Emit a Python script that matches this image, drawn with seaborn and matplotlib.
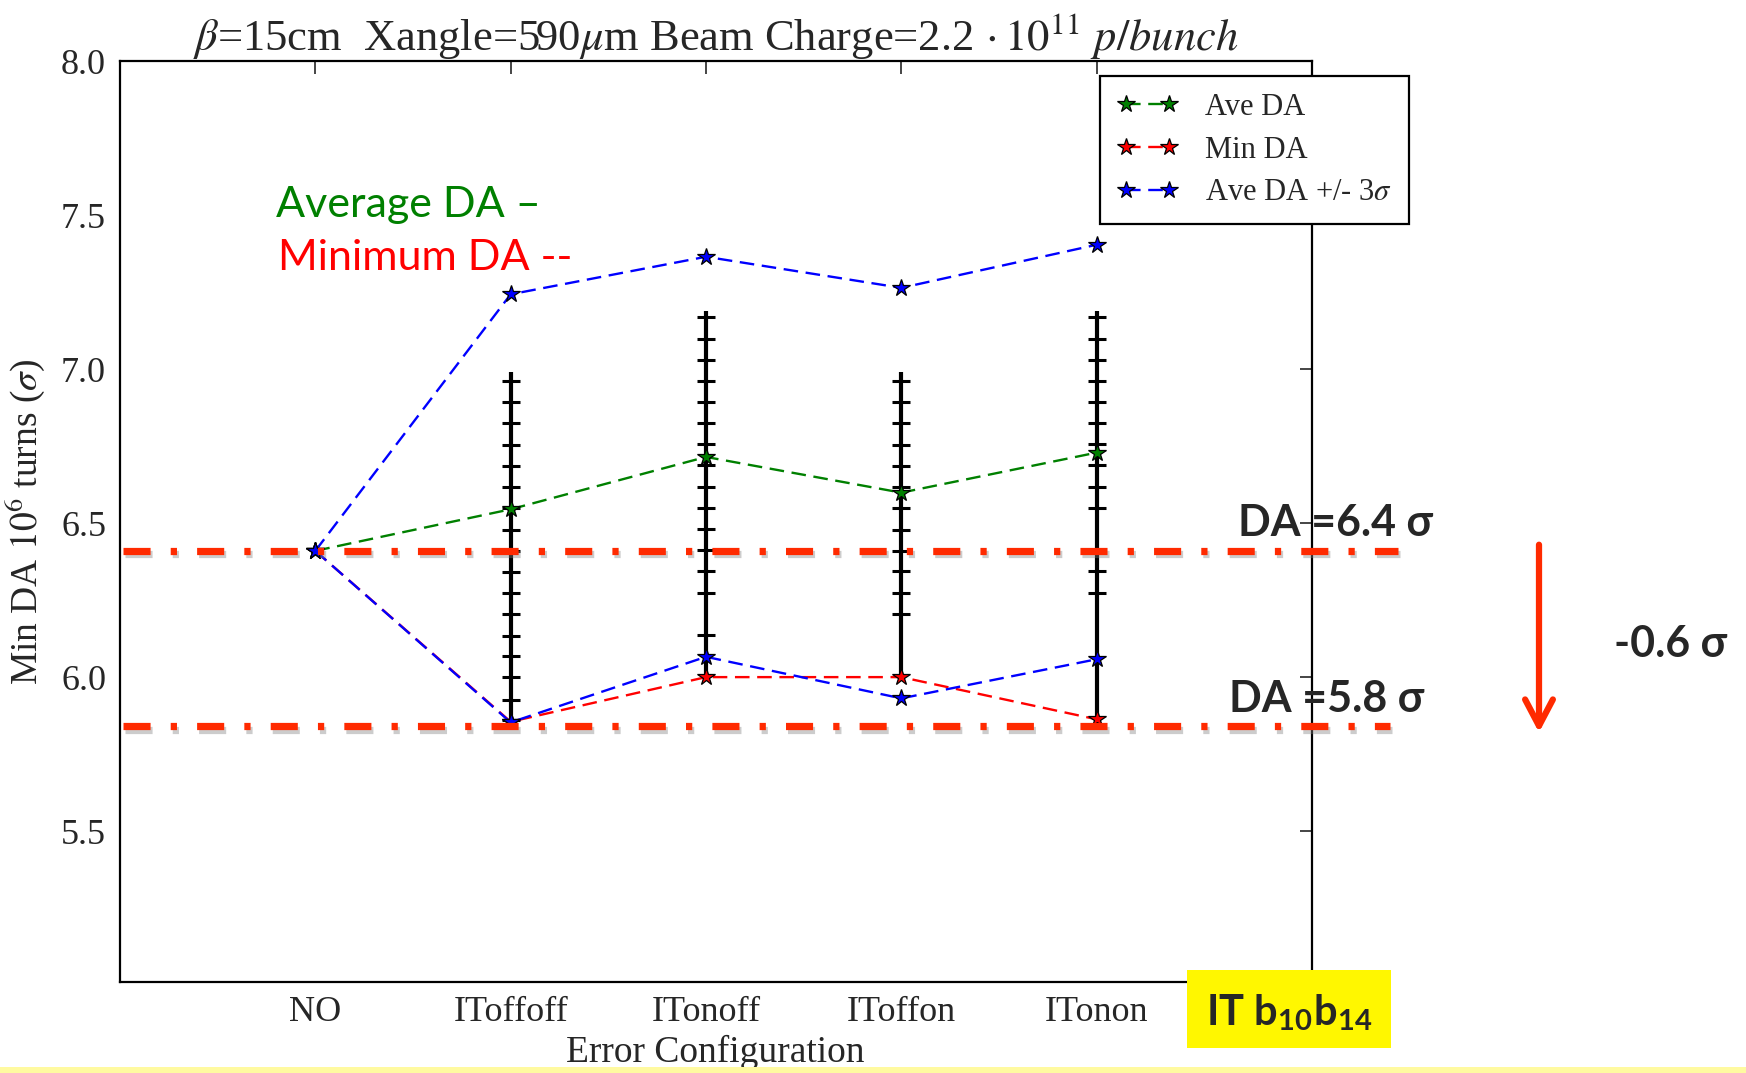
import numpy as np
import pandas as pd
import seaborn as sns
import matplotlib
matplotlib.use("Agg")
import matplotlib.pyplot as plt
import matplotlib.patheffects as pe
import matplotlib.transforms as mtransforms
from matplotlib.lines import Line2D
from matplotlib.patches import Rectangle

# ---- data -------------------------------------------------------------
configs = ["NO", "IToffoff", "ITonoff", "IToffon", "ITonon"]
ave_da = [6.41, 6.545, 6.715, 6.599, 6.729]
min_da = [6.41, 5.855, 6.00, 6.00, 5.863]
ave_plus_3sigma = [6.41, 7.243, 7.365, 7.264, 7.404]
ave_minus_3sigma = [6.41, 5.853, 6.066, 5.931, 6.058]

# per-seed DA spread for the configurations with IT errors
seed_configs = ["IToffoff", "ITonoff", "IToffon", "ITonon"]
seed_low = [5.86, 6.00, 6.00, 5.86]
seed_high = [6.99, 7.19, 6.99, 7.19]
seed_levels = [
    [6.962, 6.894, 6.826, 6.755, 6.687, 6.618, 6.550, 6.478, 6.410, 6.342,
     6.274, 6.206, 6.135, 6.067, 5.999, 5.927, 5.862],
    [7.168, 7.099, 7.030, 6.962, 6.894, 6.825, 6.757, 6.688, 6.618, 6.549,
     6.480, 6.412, 6.343, 6.273, 6.136],
    [6.962, 6.893, 6.825, 6.755, 6.687, 6.618, 6.549, 6.479, 6.409, 6.344,
     6.274, 6.205],
    [7.168, 7.099, 7.030, 6.962, 6.894, 6.825, 6.757, 6.688, 6.618, 6.549,
     6.412, 6.343, 6.273],
]

da_levels = [6.41, 5.84]
da_level_labels = ["DA =6.4 σ", "DA =5.8 σ"]
da_drop_label = "-0.6 σ"
yticks = [5.5, 6.0, 6.5, 7.0, 7.5, 8.0]

# ---- style ------------------------------------------------------------
sns.set_style("white")
plt.rcParams["font.family"] = ["Liberation Serif", "DejaVu Serif"]
plt.rcParams["mathtext.fontset"] = "stix"
plt.rcParams["lines.scale_dashes"] = False

W, H = 1746, 1073
fig = plt.figure(figsize=(W / 100, H / 100), dpi=100)
ax = fig.add_axes([120 / W, 1 - 982 / H, (1311.5 - 120) / W, (982 - 61.2) / H])

xpos = np.arange(len(configs))
df = pd.DataFrame({"x": xpos, "ave": ave_da, "min": min_da,
                   "plus": ave_plus_3sigma, "minus": ave_minus_3sigma})

dash = (0, (10.5, 5.5))
star_kw = dict(marker="*", markersize=13, markeredgecolor="black",
               markeredgewidth=0.9)

# seed spread: vertical bar with a cap at every seed level
sx = [configs.index(c) for c in seed_configs]
ax.vlines(sx, seed_low, seed_high, color="black", lw=3.0, zorder=2)
for xi, lev in zip(sx, seed_levels):
    ax.plot([xi] * len(lev), lev, ls="none", marker="_", markersize=13,
            markeredgewidth=2.2, color="black", zorder=2)

series = [("ave", "green"), ("min", "red"), ("plus", "blue"), ("minus", "blue")]
for col, color in series:
    sns.lineplot(data=df, x="x", y=col, ax=ax, color=color, lw=1.7,
                 linestyle=dash, sort=False, errorbar=None, zorder=3)
    ax.plot(df["x"], df[col], ls="none", color=color, zorder=4, **star_kw)

ax.set_xlim(-1.0, 5.1)
ax.set_ylim(5.01, 8.0)
ax.set_xticks(xpos)
ax.set_xticklabels(configs)
ax.set_yticks(yticks)
ax.set_yticklabels([f"{v:.1f}" for v in yticks])
ax.tick_params(direction="in", length=9, width=1.2, top=True, right=True,
               labelsize=26, pad=10)
for s in ax.spines.values():
    s.set_linewidth(1.6)
    s.set_color("black")

ax.set_xlabel("Error Configuration", fontsize=27, labelpad=4)
ax.set_ylabel(r"Min DA $10^6$ turns ($\sigma$)", fontsize=27, labelpad=10)
ax.set_title(r"$\beta$=15cm  Xangle=590$\mu$m Beam Charge=2.2$\,\cdot10^{11}$ $p/bunch$",
             fontsize=32, pad=8)

# legend
handles = [Line2D([0], [0], color=c, lw=1.7, linestyle=dash, **star_kw)
           for c in ("green", "red", "blue")]
leg = fig.legend(handles, ["Ave DA", "Min DA", r"Ave DA +/- 3$\sigma$"],
                 loc="upper left", bbox_to_anchor=(1100 / W, 1 - 76 / H),
                 numpoints=2, handlelength=2.0, fontsize=22, frameon=True,
                 fancybox=False, borderpad=0.55, labelspacing=0.45,
                 handletextpad=0.9, borderaxespad=0)
leg.get_frame().set_edgecolor("black")
leg.get_frame().set_linewidth(1.6)
leg.get_frame().set_alpha(1)

# DA threshold lines reaching out past the axes
blend = mtransforms.blended_transform_factory(fig.transFigure, ax.transData)
red = "#ff2a00"
shadow = [pe.SimpleLineShadow(offset=(1.5, -2.5), shadow_color="gray", alpha=0.4),
          pe.Normal()]
for lvl, xend in zip(da_levels, (1398 / W, 1390 / W)):
    ax.plot([123 / W, xend], [lvl, lvl], transform=blend, color=red, lw=5.2,
            linestyle=(0, (19.5, 14.5, 4.5, 14.5)), solid_capstyle="butt",
            dash_capstyle="butt", clip_on=False, zorder=6, path_effects=shadow)

bold = ["Lato", "DejaVu Sans"]
ax.text(1238 / W, da_levels[0] + 0.025, da_level_labels[0], transform=blend,
        family=bold, weight="bold", fontsize=31, va="bottom", ha="left")
ax.text(1229 / W, da_levels[1] + 0.025, da_level_labels[1], transform=blend,
        family=bold, weight="bold", fontsize=31, va="bottom", ha="left")
ax.annotate("", xy=(1539 / W, da_levels[1] - 0.02), xycoords=blend,
            xytext=(1539 / W, da_levels[0] + 0.02), textcoords=blend,
            arrowprops=dict(arrowstyle="->,head_length=1.9,head_width=1.0",
                            color=red, lw=4.5, shrinkA=0, shrinkB=0,
                            capstyle="round"),
            annotation_clip=False)
fig.text(1614 / W, 1 - 657 / H, da_drop_label, family=bold,
         weight="bold", fontsize=31, va="baseline", ha="left")

# notes on the line styles
sans = ["Lato", "DejaVu Sans"]
fig.text(276 / W, 1 - 217 / H, "Average DA –", color="green",
         family=sans, fontsize=31, va="baseline")
fig.text(278 / W, 1 - 270 / H, "Minimum DA --", color="red",
         family=sans, fontsize=31, va="baseline")

# magnet-error tag
fig.add_artist(Rectangle((1187 / W, 1 - 1048 / H), 204 / W, 78 / H,
                         transform=fig.transFigure, facecolor="#fff700",
                         edgecolor="none", zorder=5))
fig.text(1289 / W, 1 - 1025 / H,
         r"IT b$_\mathregular{10}$b$_\mathregular{14}$", family=bold,
         weight="bold", fontsize=30, ha="center", va="baseline", zorder=6)
fig.add_artist(Rectangle((0, 0), 1, 6 / H, transform=fig.transFigure,
                         facecolor="#fffaa0", edgecolor="none"))

fig.savefig("out.png", dpi=100)
